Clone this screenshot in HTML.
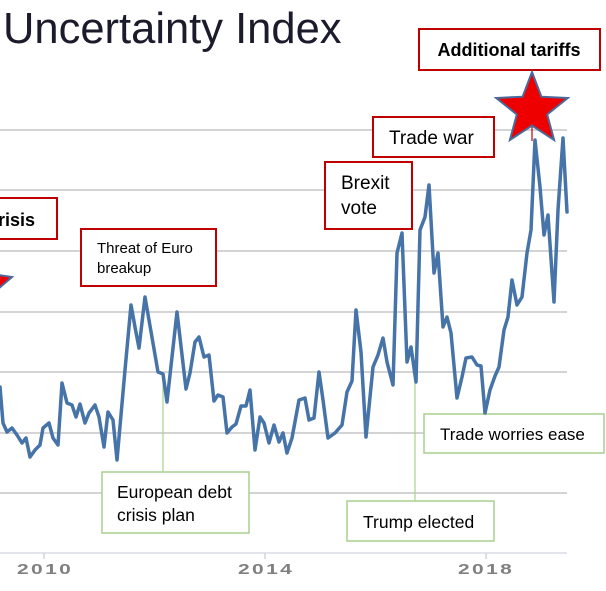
<!DOCTYPE html>
<html>
<head>
<meta charset="utf-8">
<style>
  html, body { margin: 0; padding: 0; background: #ffffff; }
  body { width: 606px; height: 591px; overflow: hidden; }
  svg { display: block; }
  text { font-family: "Liberation Sans", "DejaVu Sans", sans-serif; }
</style>
</head>
<body>
<svg width="606" height="591" viewBox="0 0 606 591" xmlns="http://www.w3.org/2000/svg">
  <rect x="0" y="0" width="606" height="591" fill="#ffffff"/>

  <!-- Title -->
  <text x="3" y="43" font-size="43.5" fill="#1b1b2b">Uncertainty Index</text>

  <!-- Gridlines -->
  <g stroke="#d4d4d4" stroke-width="2">
    <line x1="0" y1="130" x2="567" y2="130"/>
    <line x1="0" y1="190" x2="567" y2="190"/>
    <line x1="0" y1="251" x2="567" y2="251"/>
    <line x1="0" y1="312" x2="567" y2="312"/>
    <line x1="0" y1="372" x2="567" y2="372"/>
    <line x1="0" y1="433" x2="567" y2="433"/>
    <line x1="0" y1="493" x2="567" y2="493"/>
  </g>
  <!-- X axis -->
  <line x1="0" y1="553" x2="567" y2="553" stroke="#d8dde6" stroke-width="1.5"/>
  <g stroke="#d0d4dc" stroke-width="1.5">
    <line x1="44" y1="553" x2="44" y2="559"/>
    <line x1="265" y1="553" x2="265" y2="559"/>
    <line x1="486" y1="553" x2="486" y2="559"/>
  </g>
  <g font-size="15" font-weight="bold" fill="#808080" letter-spacing="1.7">
    <text transform="translate(17,574) scale(1.4,1)">2010</text>
    <text transform="translate(238,574) scale(1.4,1)">2014</text>
    <text transform="translate(458,574) scale(1.4,1)">2018</text>
  </g>

  <!-- Connector lines -->
  <line x1="163" y1="374" x2="163" y2="472" stroke="#a9d18e" stroke-width="1.2"/>
  <line x1="415" y1="382" x2="415" y2="501" stroke="#a9d18e" stroke-width="1.2"/>
  <line x1="532" y1="118" x2="532" y2="141" stroke="#c00000" stroke-width="1.2"/>

  <!-- Boxes -->
  <g fill="#ffffff" stroke="#c00000" stroke-width="2">
    <rect x="-5" y="198" width="62" height="41"/>
    <rect x="81" y="229" width="135" height="57"/>
    <rect x="325" y="162" width="87" height="67"/>
    <rect x="373" y="117" width="121" height="40"/>
    <rect x="419" y="29" width="181" height="41"/>
  </g>
  <g fill="#ffffff" stroke="#a9d18e" stroke-width="1.5">
    <rect x="102" y="472" width="147" height="61"/>
    <rect x="347" y="501" width="147" height="40"/>
    <rect x="424" y="414" width="180" height="39"/>
  </g>

  <!-- Data line -->
  <polyline fill="none" stroke="#4673a8" stroke-width="3.5" stroke-linejoin="round" stroke-linecap="round"
    points="0,387 3,423 7,432 12,428 17,435 22,443 26,438 30,457 35,450 40,445 43,428 49,423 53,438 58,445 62,383 67,403 72,405 76,417 80,404 85,423 89,413 95,405 99,417 104,447 108,412 113,420 117,460 125,370 131,305 135,327 139,348 145,297 158,372 163,374 167,402 177,312 186,389 190,373 195,342 199,337 204,357 209,355 214,401 218,395 223,397 227,433 232,427 236,424 241,406 246,406 250,390 255,450 260,417 264,423 269,443 274,425 279,442 283,433 287,453 292,438 299,400 305,398 309,420 314,418 319,372 323,400 328,438 335,433 342,425 347,392 352,381 356,310 361,352 366,437 373,367 378,355 383,338 387,362 393,385 397,253 402,233 407,362 411,347 416,382 420,230 425,217 429,185 434,273 438,253 443,327 447,317 451,333 457,398 462,377 466,358 472,357 477,365 481,366 485,413 490,390 495,376 499,367 504,330 508,317 512,280 517,305 522,297 527,253 531,230 535,140 540,187 544,235 548,215 554,302 558,210 563,138 567,212"/>

  <!-- Stars -->
  <polygon points="532,72 541.4,96.7 567.8,98 547.2,114.5 554.1,140 532,125.6 509.9,140 516.8,114.5 496.2,98 522.6,96.7"
    fill="#ee0000" stroke="#4a6a9c" stroke-width="2" stroke-linejoin="miter"/>
  <polygon points="-2,275 12,277 -2,289" fill="#ee0000" stroke="#4a6a9c" stroke-width="2"/>

  <!-- Annotation texts -->
  <text x="35" y="226" font-size="18" font-weight="bold" fill="#000" text-anchor="end">Financial crisis</text>
  <text x="97" y="253" font-size="15" fill="#000">Threat of Euro</text>
  <text x="97" y="273" font-size="15" fill="#000">breakup</text>
  <text x="341" y="189" font-size="19" fill="#000">Brexit</text>
  <text x="341" y="214" font-size="19" fill="#000">vote</text>
  <text x="389" y="144" font-size="19" fill="#000">Trade war</text>
  <text x="509" y="56" font-size="18" font-weight="bold" fill="#000" text-anchor="middle">Additional tariffs</text>
  <text x="117" y="498" font-size="17.5" fill="#000">European debt</text>
  <text x="117" y="521" font-size="17.5" fill="#000">crisis plan</text>
  <text x="363" y="528" font-size="17.5" fill="#000">Trump elected</text>
  <text x="440" y="440" font-size="17" fill="#000">Trade worries ease</text>
</svg>
</body>
</html>
